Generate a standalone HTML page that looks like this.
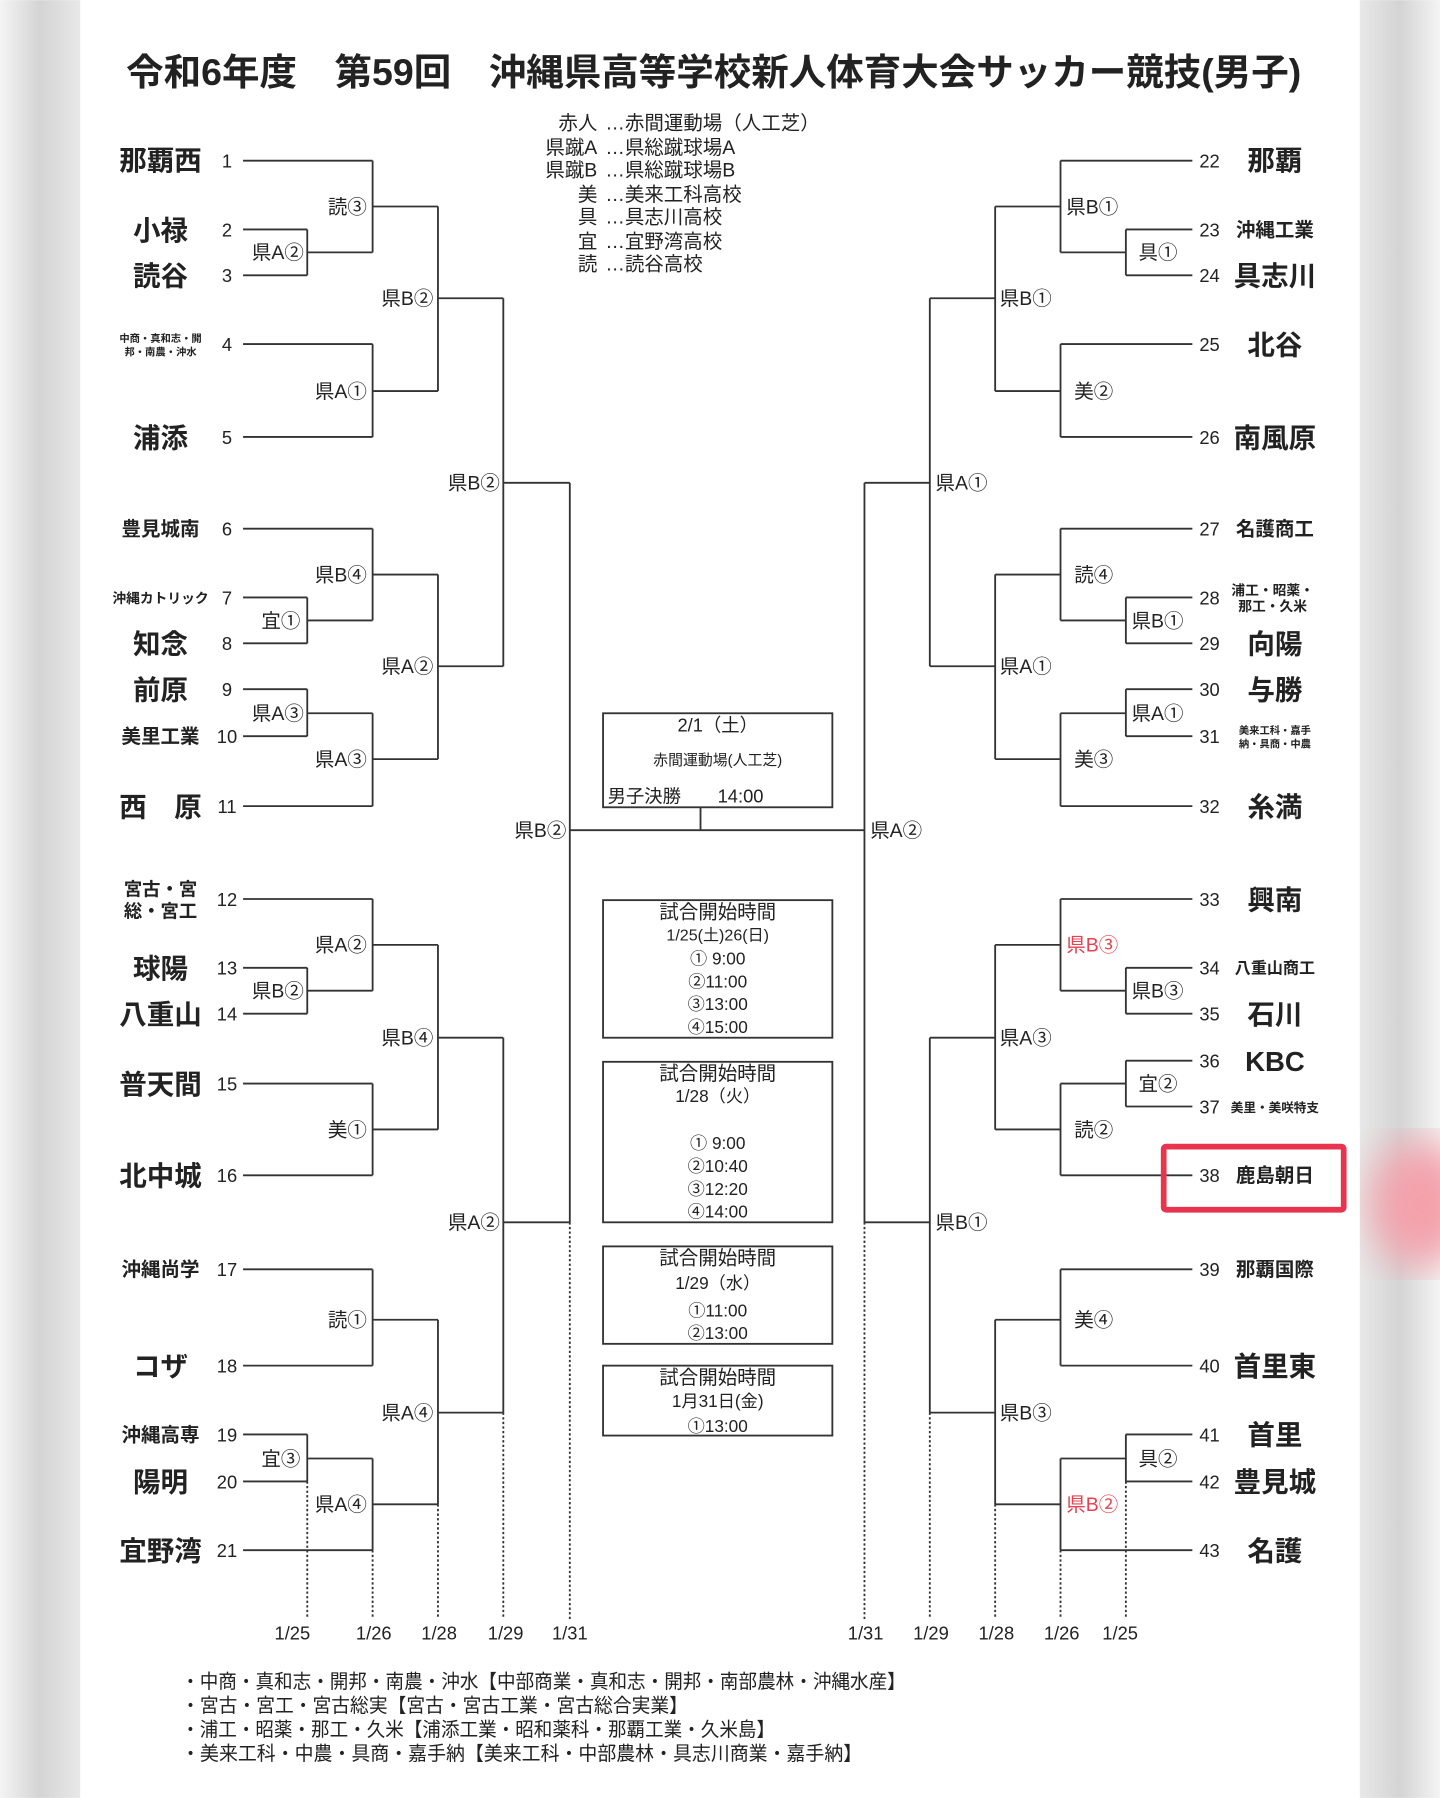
<!DOCTYPE html>
<html><head><meta charset="utf-8"><style>
html,body{margin:0;padding:0;width:1440px;height:1798px;overflow:hidden;background:#fff}
svg{display:block}
text{font-family:"Liberation Sans","Noto Sans CJK JP",sans-serif;fill:#222}
.t{font-weight:bold;font-size:24px;text-anchor:middle}
.n{font-size:16px;fill:#333}
.l{font-size:17px;fill:#333}
.r{fill:#e84050}
.c{font-size:15px;text-anchor:middle}
</style></head><body>
<svg width="1440" height="1798" viewBox="0 0 1256 1568" xmlns="http://www.w3.org/2000/svg">
<defs>
<linearGradient id="gl" x1="0" x2="1"><stop offset="0" stop-color="#f4f4f4"/><stop offset="0.5" stop-color="#d4d4d4"/><stop offset="1" stop-color="#e8e8e8"/></linearGradient>
<linearGradient id="gr" x1="0" x2="1"><stop offset="0" stop-color="#e8e8e8"/><stop offset="0.5" stop-color="#d4d4d4"/><stop offset="1" stop-color="#f4f4f4"/></linearGradient>
<filter id="bl"><feGaussianBlur stdDeviation="18"/></filter>
</defs>
<rect x="0" y="0" width="70" height="1568" fill="url(#gl)"/>
<rect x="1186" y="0" width="70" height="1568" fill="url(#gr)"/>
<ellipse cx="1240" cy="1050" rx="45" ry="55" fill="#f4a0aa" filter="url(#bl)"/>
<rect x="70" y="0" width="1116" height="1568" fill="#fff"/>

<text x="110" y="74" font-size="32" font-weight="bold" textLength="1025" lengthAdjust="spacingAndGlyphs">令和6年度　第59回　沖縄県高等学校新人体育大会サッカー競技(男子)</text>

<g font-size="17">
<text x="521" y="113" text-anchor="end">赤人</text><text x="528" y="113" textLength="187">…赤間運動場（人工芝）</text>
<text x="521" y="134" text-anchor="end">県蹴A</text><text x="528" y="134">…県総蹴球場A</text>
<text x="521" y="154" text-anchor="end">県蹴B</text><text x="528" y="154">…県総蹴球場B</text>
<text x="521" y="175" text-anchor="end">美</text><text x="528" y="175" fill="#555">…美来工科高校</text>
<text x="521" y="195" text-anchor="end">具</text><text x="528" y="195" fill="#555">…具志川高校</text>
<text x="521" y="216" text-anchor="end">宜</text><text x="528" y="216" fill="#555">…宜野湾高校</text>
<text x="521" y="236" text-anchor="end">読</text><text x="528" y="236" fill="#555">…読谷高校</text>
</g>

<g stroke="#333" stroke-width="1.6" fill="none">
<path d="M212 140H325M212 200H268M212 240H268M268 200V240M268 220H325M325 140V220M325 180H382
M212 300H325M212 381H325M325 300V381M325 341H382M382 180V341M382 260H439
M212 461H325M212 521H268M212 561H268M268 521V561M268 541H325M325 461V541M325 501H382
M212 601H268M212 642H268M268 601V642M268 622H325M212 703H325M325 622V703M325 662H382M382 501V662M382 581H439M439 260V581M439 421H497
M212 784H325M212 844H268M212 884H268M268 844V884M268 864H325M325 784V864M325 824H382
M212 945H325M212 1025H325M325 945V1025M325 985H382M382 824V985M382 905H439
M212 1107H325M212 1191H325M325 1107V1191M325 1151H382
M212 1251H268M212 1292H268M268 1251V1292M268 1272H325M212 1352H325M325 1272V1352M325 1312H382M382 1151V1312M382 1232H439M439 905V1232M439 1066H497M497 421V1066M497 724H754
M925 140H1040M982 200H1040M982 240H1040M982 200V240M925 220H982M925 140V220M868 180H925
M925 300H1040M925 381H1040M925 300V381M868 341H925M868 180V341M811 260H868
M925 461H1040M982 521H1040M982 561H1040M982 521V561M925 541H982M925 461V541M868 501H925
M982 601H1040M982 642H1040M982 601V642M925 622H982M925 703H1040M925 622V703M868 662H925M868 501V662M811 581H868M811 260V581M754 421H811
M925 784H1040M982 844H1040M982 884H1040M982 844V884M925 864H982M925 784V864M868 824H925
M982 925H1040M982 965H1040M982 925V965M925 945H982M925 1025H1040M925 945V1025M868 985H925M868 824V985M811 905H868
M925 1107H1040M925 1191H1040M925 1107V1191M868 1151H925
M982 1251H1040M982 1292H1040M982 1251V1292M925 1272H982M925 1352H1040M925 1272V1352M868 1312H925M868 1151V1312M811 1232H868M811 905V1232M754 1066H811M754 421V1066
M611 704V724"/>
<path stroke-dasharray="2 2" d="M268 1292V1412M325 1352V1412M382 1312V1412M439 1232V1412M497 1066V1412M982 1292V1412M925 1352V1412M868 1312V1412M811 1232V1412M754 1066V1412"/>
<rect x="526" y="622" width="200" height="82"/>
<rect x="526" y="785" width="200" height="120"/>
<rect x="526" y="926" width="200" height="140"/>
<rect x="526" y="1087" width="200" height="85"/>
<rect x="526" y="1191" width="200" height="61"/>
</g>

<g class="c">
<text x="626" y="638" font-size="16">2/1（土）</text>
<text x="626" y="667" font-size="13">赤間運動場(人工芝)</text>
<text x="530" y="700" font-size="16" text-anchor="start">男子決勝　　14:00</text>
<text x="626" y="801" font-size="17">試合開始時間</text>
<text x="626" y="820" font-size="14">1/25(土)26(日)</text>
<text x="626" y="841">① 9:00</text><text x="626" y="861">②11:00</text><text x="626" y="881">③13:00</text><text x="626" y="901">④15:00</text>
<text x="626" y="942" font-size="17">試合開始時間</text>
<text x="626" y="961">1/28（火）</text>
<text x="626" y="1002">① 9:00</text><text x="626" y="1022">②10:40</text><text x="626" y="1042">③12:20</text><text x="626" y="1062">④14:00</text>
<text x="626" y="1103" font-size="17">試合開始時間</text>
<text x="626" y="1124">1/29（水）</text>
<text x="626" y="1148">①11:00</text><text x="626" y="1168">②13:00</text>
<text x="626" y="1207" font-size="17">試合開始時間</text>
<text x="626" y="1227">1月31日(金)</text>
<text x="626" y="1249">①13:00</text>
</g>

<g class="l" text-anchor="end">
<text x="320" y="186">読③</text><text x="265" y="226">県A②</text><text x="320" y="347">県A①</text><text x="378" y="266">県B②</text>
<text x="320" y="507">県B④</text><text x="262" y="547">宜①</text><text x="265" y="628">県A③</text><text x="320" y="668">県A③</text>
<text x="378" y="587">県A②</text><text x="436" y="427">県B②</text>
<text x="320" y="830">県A②</text><text x="265" y="870">県B②</text><text x="320" y="991">美①</text><text x="378" y="911">県B④</text>
<text x="320" y="1157">読①</text><text x="262" y="1278">宜③</text><text x="320" y="1318">県A④</text><text x="378" y="1238">県A④</text>
<text x="436" y="1072">県A②</text><text x="494" y="730">県B②</text>
</g>
<g class="l">
<text x="930" y="186">県B①</text><text x="993" y="226">具①</text><text x="937" y="347">美②</text><text x="872" y="266">県B①</text>
<text x="937" y="507">読④</text><text x="987" y="547">県B①</text><text x="987" y="628">県A①</text><text x="937" y="668">美③</text>
<text x="872" y="587">県A①</text><text x="816" y="427">県A①</text>
<text x="930" y="830" class="l r">県B③</text><text x="987" y="870">県B③</text><text x="993" y="951">宜②</text><text x="937" y="991">読②</text>
<text x="872" y="911">県A③</text><text x="937" y="1157">美④</text><text x="993" y="1278">具②</text><text x="930" y="1318" class="l r">県B②</text>
<text x="872" y="1238">県B③</text><text x="816" y="1072">県B①</text><text x="759" y="730">県A②</text>
</g>

<g class="n" text-anchor="middle">
<text x="198" y="146">1</text><text x="198" y="206">2</text><text x="198" y="246">3</text><text x="198" y="306">4</text><text x="198" y="387">5</text>
<text x="198" y="467">6</text><text x="198" y="527">7</text><text x="198" y="567">8</text><text x="198" y="607">9</text><text x="198" y="648">10</text>
<text x="198" y="709">11</text><text x="198" y="790">12</text><text x="198" y="850">13</text><text x="198" y="890">14</text><text x="198" y="951">15</text>
<text x="198" y="1031">16</text><text x="198" y="1113">17</text><text x="198" y="1197">18</text><text x="198" y="1257">19</text><text x="198" y="1298">20</text><text x="198" y="1358">21</text>
<text x="1055" y="146">22</text><text x="1055" y="206">23</text><text x="1055" y="246">24</text><text x="1055" y="306">25</text><text x="1055" y="387">26</text>
<text x="1055" y="467">27</text><text x="1055" y="527">28</text><text x="1055" y="567">29</text><text x="1055" y="607">30</text><text x="1055" y="648">31</text>
<text x="1055" y="709">32</text><text x="1055" y="790">33</text><text x="1055" y="850">34</text><text x="1055" y="890">35</text><text x="1055" y="931">36</text>
<text x="1055" y="971">37</text><text x="1055" y="1031">38</text><text x="1055" y="1113">39</text><text x="1055" y="1197">40</text><text x="1055" y="1257">41</text>
<text x="1055" y="1298">42</text><text x="1055" y="1358">43</text>
</g>

<g class="t">
<text x="140" y="148">那覇西</text><text x="140" y="209">小禄</text><text x="140" y="249">読谷</text>
<text x="140" y="298" font-size="9">中商・真和志・開</text><text x="140" y="310" font-size="9">邦・南農・沖水</text>
<text x="140" y="390">浦添</text><text x="140" y="467" font-size="17">豊見城南</text><text x="140" y="526" font-size="12">沖縄カトリック</text>
<text x="140" y="570">知念</text><text x="140" y="610">前原</text><text x="140" y="648" font-size="17">美里工業</text>
<text x="140" y="712">西　原</text><text x="140" y="781" font-size="16">宮古・宮</text><text x="140" y="800" font-size="16">総・宮工</text>
<text x="140" y="853">球陽</text><text x="140" y="893">八重山</text><text x="140" y="954">普天間</text><text x="140" y="1034">北中城</text>
<text x="140" y="1113" font-size="17">沖縄尚学</text><text x="140" y="1200">コザ</text><text x="140" y="1257" font-size="17">沖縄高専</text>
<text x="140" y="1301">陽明</text><text x="140" y="1361">宜野湾</text>
<text x="1112" y="148">那覇</text><text x="1112" y="206" font-size="17">沖縄工業</text><text x="1112" y="249">具志川</text>
<text x="1112" y="309">北谷</text><text x="1112" y="390">南風原</text><text x="1112" y="467" font-size="17">名護商工</text>
<text x="1110" y="519" font-size="12">浦工・昭薬・</text><text x="1110" y="533" font-size="12">那工・久米</text>
<text x="1112" y="570">向陽</text><text x="1112" y="610">与勝</text>
<text x="1112" y="640" font-size="9">美来工科・嘉手</text><text x="1112" y="652" font-size="9">納・具商・中農</text>
<text x="1112" y="712">糸満</text><text x="1112" y="793">興南</text><text x="1112" y="849" font-size="14">八重山商工</text>
<text x="1112" y="893">石川</text><text x="1112" y="934">KBC</text><text x="1112" y="970" font-size="11">美里・美咲特支</text>
<text x="1112" y="1031" font-size="17">鹿島朝日</text><text x="1112" y="1113" font-size="17">那覇国際</text>
<text x="1112" y="1200">首里東</text><text x="1112" y="1260">首里</text><text x="1112" y="1301">豊見城</text><text x="1112" y="1361">名護</text>
</g>
<rect x="1015" y="1000" width="157" height="55" rx="2" fill="none" stroke="#e8344e" stroke-width="5"/>

<g class="n" text-anchor="middle">
<text x="255" y="1430">1/25</text><text x="326" y="1430">1/26</text><text x="383" y="1430">1/28</text><text x="441" y="1430">1/29</text><text x="497" y="1430">1/31</text>
<text x="755" y="1430">1/31</text><text x="812" y="1430">1/29</text><text x="869" y="1430">1/28</text><text x="926" y="1430">1/26</text><text x="977" y="1430">1/25</text>
</g>
<g font-size="17">
<text x="158" y="1472" textLength="632" lengthAdjust="spacingAndGlyphs">・中商・真和志・開邦・南農・沖水【中部商業・真和志・開邦・南部農林・沖縄水産】</text>
<text x="158" y="1493" textLength="442" lengthAdjust="spacingAndGlyphs">・宮古・宮工・宮古総実【宮古・宮古工業・宮古総合実業】</text>
<text x="158" y="1514" textLength="518" lengthAdjust="spacingAndGlyphs">・浦工・昭薬・那工・久米【浦添工業・昭和薬科・那覇工業・久米島】</text>
<text x="158" y="1535" textLength="594" lengthAdjust="spacingAndGlyphs">・美来工科・中農・具商・嘉手納【美来工科・中部農林・具志川商業・嘉手納】</text>
</g>
</svg>
</body></html>
